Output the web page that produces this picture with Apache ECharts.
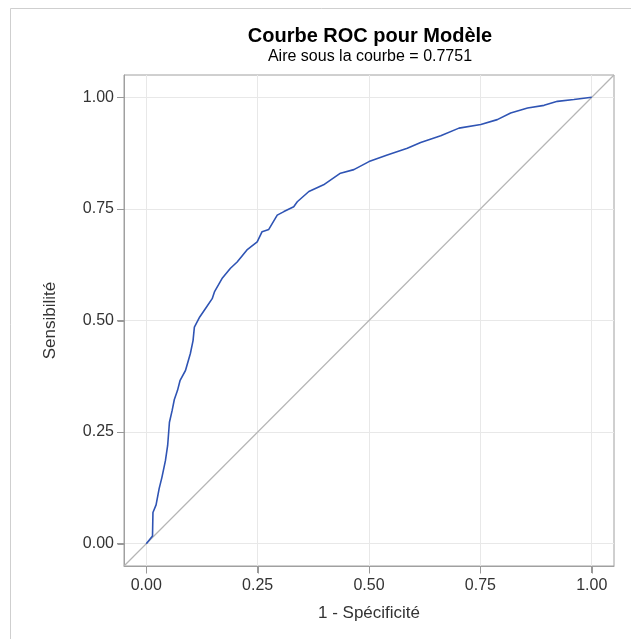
<!DOCTYPE html>
<html>
<head>
<meta charset="utf-8">
<script src="https://cdn.jsdelivr.net/npm/echarts@6/dist/echarts.min.js"></script>
<style>
html,body{margin:0;padding:0;background:#fff;}
#chart{width:631px;height:639px;}
</style>
</head>
<body>
<div id="chart"></div>
<script>
var titleText = 'Courbe ROC pour Modèle';
var subtitleText = 'Aire sous la courbe = 0.7751';
var xAxisName = '1 - Spécificité';
var yAxisName = 'Sensibilité';
var tickValues = [0, 0.25, 0.5, 0.75, 1];
var axisMin = -0.05;
var axisMax = 1.05;

// ROC curve (1 - specificity, sensitivity)
var fpr = [0.000, 0.014, 0.015, 0.022, 0.029, 0.035, 0.043, 0.048, 0.052, 0.058,
           0.063, 0.070, 0.076, 0.088, 0.099, 0.105, 0.108, 0.120, 0.133, 0.148,
           0.153, 0.170, 0.189, 0.204, 0.226, 0.249, 0.260, 0.275, 0.294, 0.309,
           0.331, 0.339, 0.365, 0.398, 0.436, 0.466, 0.500, 0.541, 0.586, 0.616,
           0.661, 0.702, 0.751, 0.788, 0.818, 0.856, 0.893, 0.923, 0.960, 1.000];
var tpr = [0.000, 0.017, 0.070, 0.087, 0.124, 0.148, 0.186, 0.220, 0.272, 0.298,
           0.323, 0.343, 0.366, 0.388, 0.426, 0.455, 0.485, 0.508, 0.527, 0.549,
           0.564, 0.594, 0.617, 0.631, 0.658, 0.676, 0.699, 0.704, 0.736, 0.744,
           0.755, 0.766, 0.789, 0.804, 0.830, 0.838, 0.856, 0.871, 0.886, 0.899,
           0.914, 0.931, 0.939, 0.950, 0.965, 0.976, 0.982, 0.991, 0.995, 1.000];
var diagX = [axisMin, axisMax];
var diagY = [axisMin, axisMax];

var rocData = fpr.map(function (v, i) { return [v, tpr[i]]; });
var diagData = diagX.map(function (v, i) { return [v, diagY[i]]; });

var font = '"Liberation Sans", Arial, sans-serif';
var tickLen = 7;
var tickColor = '#999999';

var axisCommon = function (name, isX) {
  return {
    type: 'value',
    min: axisMin,
    max: axisMax,
    name: name,
    nameLocation: 'middle',
    nameGap: isX ? 39 : 65,
    nameTextStyle: { fontFamily: font, fontSize: 17, color: '#333' },
    axisLine: { show: true, onZero: false, lineStyle: { color: '#a0a0a0', width: 1 } },
    axisTick: { show: true, inside: false, length: tickLen, customValues: tickValues, lineStyle: { color: tickColor, width: 1 } },
    axisLabel: {
      customValues: tickValues,
      margin: isX ? 12 : 10,
      fontFamily: font, fontSize: 16, color: '#333',
      formatter: function (v) { return v.toFixed(2); }
    },
    splitLine: { show: true, lineStyle: { color: '#e8e8e8', width: 1 } }
  };
};

function tickSeries(isX) {
  return {
    type: 'custom',
    silent: true,
    clip: false,
    z: 1,
    data: tickValues.map(function (v) { return [v]; }),
    renderItem: function (params, api) {
      var v = api.value(0);
      var p = isX ? api.coord([v, axisMin]) : api.coord([axisMin, v]);
      var x = Math.round(p[0]) + 0.5, y = Math.round(p[1]) + 0.5;
      var shape = isX
        ? { x1: x, y1: y, x2: x, y2: y + tickLen }
        : { x1: x, y1: y, x2: x - tickLen, y2: y };
      return { type: 'line', shape: shape, style: { stroke: tickColor, lineWidth: 1 } };
    }
  };
}

var chart = echarts.init(document.getElementById('chart'), null, { renderer: 'canvas' });
chart.setOption({
  animation: false,
  backgroundColor: '#fff',
  title: {
    text: titleText,
    subtext: subtitleText,
    left: 365,
    textAlign: 'center',
    top: 21,
    itemGap: 3,
    textStyle: { fontFamily: font, fontSize: 20, fontWeight: 'bold', color: '#000' },
    subtextStyle: { fontFamily: font, fontSize: 16, color: '#000' }
  },
  graphic: [{
    type: 'rect',
    shape: { x: 10.5, y: 8.5, width: 700, height: 700 },
    style: { fill: 'none', stroke: '#cfcfcf', lineWidth: 1 },
    silent: true
  }],
  grid: {
    left: 124, top: 75, width: 490, height: 491,
    show: true, borderColor: '#a0a0a0', borderWidth: 1, backgroundColor: 'transparent'
  },
  xAxis: axisCommon(xAxisName, true),
  yAxis: axisCommon(yAxisName, false),
  series: [
    tickSeries(true),
    tickSeries(false),
    {
      type: 'line', data: diagData, symbol: 'none', silent: true, z: 2,
      lineStyle: { color: '#b5b5b5', width: 1.2 }
    },
    {
      type: 'line', data: rocData, symbol: 'none', silent: true, z: 3,
      lineStyle: { color: '#2f54b4', width: 1.6 }
    }
  ]
});
</script>
</body>
</html>
